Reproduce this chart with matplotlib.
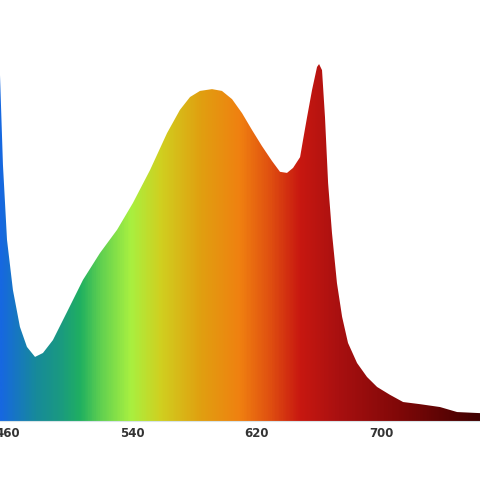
import numpy as np
import matplotlib.pyplot as plt
from matplotlib.colors import LinearSegmentedColormap
from matplotlib.patches import Polygon

# spectrum (wavelength nm, relative intensity)
wavelength = [454.9, 456.8, 459.4, 463.2, 467.7, 472.2, 477.4, 482.5, 488.9,
              497.9, 508.2, 519.1, 530.1, 540.3, 551.3, 562.2, 570.5, 577.0,
              583.4, 591.1, 597.5, 604.0, 610.4, 616.8, 623.2, 629.7, 634.8,
              639.3, 643.2, 647.7, 649.6, 652.2, 655.4, 658.6, 659.9, 661.8,
              663.7, 665.7, 668.2, 671.4, 674.7, 678.5, 684.3, 690.7, 697.2,
              705.5, 713.9, 724.8, 737.6, 748.6, 763.3]
intensity = [0.966, 0.715, 0.506, 0.366, 0.263, 0.207, 0.179, 0.190, 0.226,
             0.304, 0.394, 0.469, 0.534, 0.609, 0.701, 0.804, 0.869, 0.905,
             0.922, 0.927, 0.922, 0.899, 0.860, 0.813, 0.768, 0.726, 0.696,
             0.693, 0.707, 0.737, 0.785, 0.849, 0.925, 0.989, 0.997, 0.980,
             0.849, 0.665, 0.525, 0.385, 0.291, 0.218, 0.162, 0.123, 0.095,
             0.073, 0.053, 0.047, 0.039, 0.025, 0.022]
ticks = [460, 540, 620, 700]

# colour of the fill along the wavelength axis
stop_wl = [454.9, 477.4, 493.4, 506.3, 519.1, 538.4, 557.7, 583.4, 609.1,
           628.4, 647.7, 673.4, 711.9, 737.6, 763.3]
stop_col = ["#1668e0", "#178a9a", "#1a9a80", "#20b060", "#60d050", "#a8f040",
            "#d0d020", "#e0a010", "#f08010", "#e05010", "#c81810", "#a81010",
            "#800808", "#600404", "#400000"]

x0, x1 = stop_wl[0], stop_wl[-1]
cmap = LinearSegmentedColormap.from_list(
    "spec", [((w - x0) / (x1 - x0), c) for w, c in zip(stop_wl, stop_col)])

fig = plt.figure(figsize=(4.8, 4.8), dpi=100)
ax = fig.add_axes([0, 59 / 480, 1, 421 / 480])
ytop = 421 / 358

grad = np.linspace(0, 1, 600).reshape(1, -1)
img = ax.imshow(grad, cmap=cmap, extent=[x0, x1, 0, ytop], aspect="auto",
                origin="lower", zorder=1)
verts = [(wavelength[0], 0)] + list(zip(wavelength, intensity)) + [(wavelength[-1], 0)]
poly = Polygon(verts, closed=True, facecolor="none", edgecolor="none")
ax.add_patch(poly)
img.set_clip_path(poly)

ax.set_xlim(x0, x1)
ax.set_ylim(0, ytop)
ax.set_xticks(ticks)
ax.set_xticklabels([str(t) for t in ticks], fontsize=8.5, fontweight="bold",
                   color="#333333")
ax.tick_params(axis="x", length=0, pad=4)
ax.set_yticks([])
for s in ["top", "left", "right"]:
    ax.spines[s].set_visible(False)
ax.spines["bottom"].set_color("#d8e4e8")
ax.spines["bottom"].set_linewidth(0.8)

fig.savefig("out.png", dpi=100)
